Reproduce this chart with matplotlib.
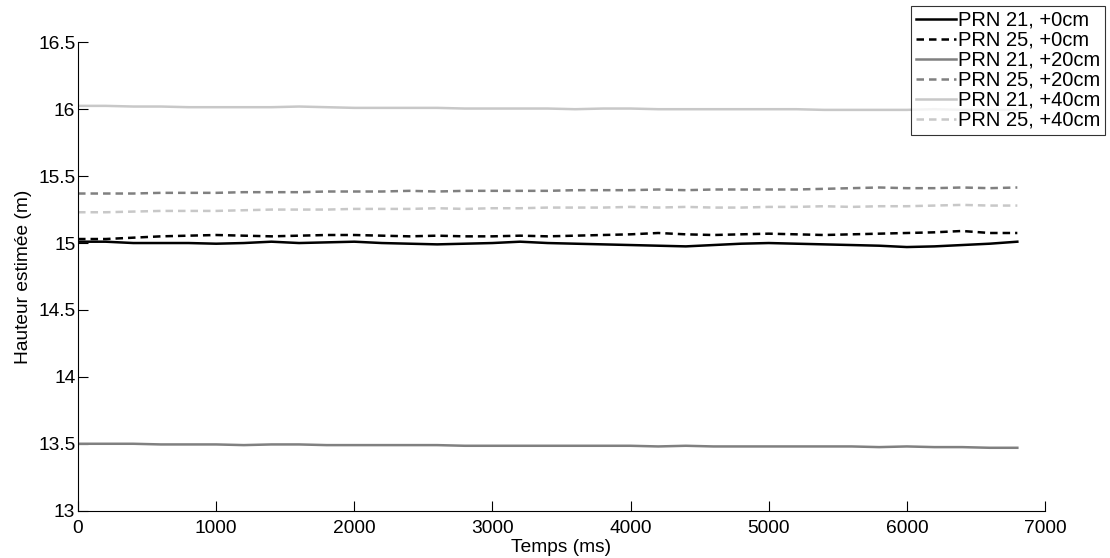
import matplotlib
matplotlib.use("Agg")
import matplotlib.pyplot as plt

plt.rcParams['font.family'] = ['Liberation Sans', 'DejaVu Sans']

temps = [0, 200, 400, 600, 800, 1000, 1200, 1400, 1600, 1800, 2000, 2200, 2400,
         2600, 2800, 3000, 3200, 3400, 3600, 3800, 4000, 4200, 4400, 4600, 4800,
         5000, 5200, 5400, 5600, 5800, 6000, 6200, 6400, 6600, 6800]

prn21_0cm = [15.01, 15.01, 15.00, 15.00, 15.00, 14.995, 15.00, 15.01, 15.00, 15.005,
             15.01, 15.00, 14.995, 14.99, 14.995, 15.00, 15.01, 15.00, 14.995, 14.99,
             14.985, 14.98, 14.975, 14.985, 14.995, 15.00, 14.995, 14.99, 14.985, 14.98,
             14.97, 14.975, 14.985, 14.995, 15.01]
prn25_0cm = [15.03, 15.03, 15.04, 15.05, 15.055, 15.06, 15.055, 15.05, 15.055, 15.06,
             15.06, 15.055, 15.05, 15.055, 15.05, 15.05, 15.055, 15.05, 15.055, 15.06,
             15.065, 15.075, 15.065, 15.06, 15.065, 15.07, 15.065, 15.06, 15.065, 15.07,
             15.075, 15.08, 15.09, 15.075, 15.075]
prn21_20cm = [13.50, 13.50, 13.50, 13.495, 13.495, 13.495, 13.49, 13.495, 13.495, 13.49,
              13.49, 13.49, 13.49, 13.49, 13.485, 13.485, 13.485, 13.485, 13.485, 13.485,
              13.485, 13.48, 13.485, 13.48, 13.48, 13.48, 13.48, 13.48, 13.48, 13.475,
              13.48, 13.475, 13.475, 13.47, 13.47]
prn25_20cm = [15.37, 15.37, 15.37, 15.375, 15.375, 15.375, 15.38, 15.38, 15.38, 15.385,
              15.385, 15.385, 15.39, 15.385, 15.39, 15.39, 15.39, 15.39, 15.395, 15.395,
              15.395, 15.40, 15.395, 15.40, 15.40, 15.40, 15.40, 15.405, 15.41, 15.415,
              15.41, 15.41, 15.415, 15.41, 15.415]
prn21_40cm = [16.025, 16.025, 16.02, 16.02, 16.015, 16.015, 16.015, 16.015, 16.02, 16.015,
              16.01, 16.01, 16.01, 16.01, 16.005, 16.005, 16.005, 16.005, 16.00, 16.005,
              16.005, 16.00, 16.00, 16.00, 16.00, 16.00, 16.00, 15.995, 15.995, 15.995,
              15.995, 16.00, 15.995, 15.995, 15.995]
prn25_40cm = [15.23, 15.23, 15.235, 15.24, 15.24, 15.24, 15.245, 15.25, 15.25, 15.25,
              15.255, 15.255, 15.255, 15.26, 15.255, 15.26, 15.26, 15.265, 15.265, 15.265,
              15.27, 15.265, 15.27, 15.265, 15.265, 15.27, 15.27, 15.275, 15.27, 15.275,
              15.275, 15.28, 15.285, 15.28, 15.28]

labels = ['PRN 21, +0cm', 'PRN 25, +0cm', 'PRN 21, +20cm',
          'PRN 25, +20cm', 'PRN 21, +40cm', 'PRN 25, +40cm']
series = [prn21_0cm, prn25_0cm, prn21_20cm, prn25_20cm, prn21_40cm, prn25_40cm]
colors = ['#000000', '#000000', '#808080', '#808080', '#c8c8c8', '#c8c8c8']
styles = ['-', '--', '-', '--', '-', '--']

fig = plt.figure(figsize=(11.1, 5.58), dpi=100)
ax = fig.add_axes([0.0703, 0.0848, 0.8711, 0.8394])

handles = []
for y, c, ls, lab in zip(series, colors, styles, labels):
    h, = ax.plot(temps, y, color=c, linestyle=ls, linewidth=1.8, label=lab)
    if ls == '--':
        h.set_dashes((3.0, 2.0))
    handles.append(h)

ax.set_xlim(0, 7000)
ax.set_ylim(13, 16.5)
ax.set_xticks([0, 1000, 2000, 3000, 4000, 5000, 6000, 7000])
ax.set_yticks([13, 13.5, 14, 14.5, 15, 15.5, 16, 16.5])
ax.set_yticklabels(['13', '13.5', '14', '14.5', '15', '15.5', '16', '16.5'])
ax.tick_params(direction='in', length=7, width=0.8, labelsize=13.8, pad=2)
ax.tick_params(axis='x', pad=7)
ax.spines['top'].set_visible(False)
ax.spines['right'].set_visible(False)
for s in ['left', 'bottom']:
    ax.spines[s].set_linewidth(0.8)

ax.set_xlabel('Temps (ms)', fontsize=13.8, labelpad=1)
ax.set_ylabel('Hauteur estimée (m)', fontsize=13.8, labelpad=4)

leg = fig.legend(handles=handles, loc='upper right', bbox_to_anchor=(0.9955, 0.99),
                 fontsize=14.5, frameon=True, fancybox=False, handlelength=2.0,
                 handletextpad=0.08, borderpad=0.25, labelspacing=0.05, borderaxespad=0)
leg.get_frame().set_edgecolor('black')
leg.get_frame().set_linewidth(0.8)

fig.savefig('out.png', dpi=100)
